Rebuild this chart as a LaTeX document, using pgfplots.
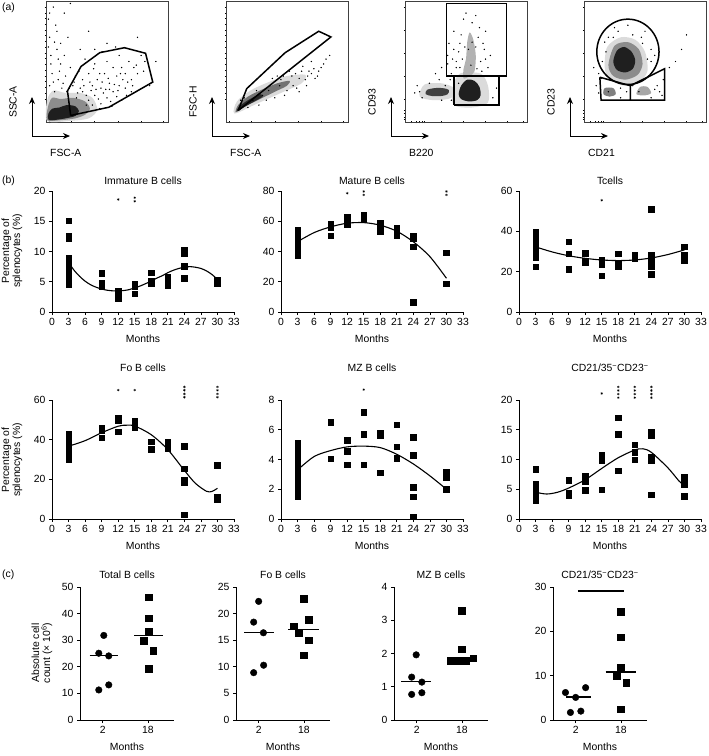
\documentclass[border=0pt]{standalone}
\usepackage{fontspec}
\setmainfont{Liberation Sans}
\usepackage{pgfplots}
\pgfplotsset{compat=1.18}
\usetikzlibrary{arrows.meta}
\newcommand\fs{\fontsize{10.4}{11}\selectfont}
\pgfplotsset{
 base/.style={scale only axis, axis x line*=bottom, axis y line*=left, tick align=outside,
   major tick length=3pt, every tick/.style={line width=0.8pt, black},
   axis line style={line width=0.9pt, black}, tick label style={font=\fs},
   xlabel style={font=\fs, yshift=-2pt}, clip=false, /pgf/number format/assume math mode=true,
   xlabel=Months, ymin=0},
 sq/.style={only marks, mark=square*, mark size=2.8pt, black},
 ci/.style={only marks, mark=*, mark size=3.3pt, black},
 csq/.style={only marks, mark=square*, mark size=3.3pt, black},
 st/.style={only marks, mark=asterisk, mark size=1.3pt, black, mark options={line width=0.35pt}},
 fit/.style={black, line width=1.1pt, smooth, no marks},
 med/.style={black, line width=1.3pt, no marks},
 pb/.style={base, width=182pt, xmin=0, xmax=33, xtick={0,3,...,33}},
 pc/.style={base, width=94pt, height=133pt, xmin=0, xmax=4.15, xtick={1,3}, xticklabels={2,18}},
 flow/.style={scale only axis, width=122pt, height=121pt, xmin=0, xmax=100, ymin=0, ymax=100,
   xticklabels={}, yticklabels={}, xtick pos=left, ytick pos=left, tick align=center,
   major tick length=2.5pt, minor tick length=1.5pt, every tick/.style={black, line width=0.6pt},
   axis line style={black!75, line width=0.5pt}, clip=true},
 dots/.style={only marks, mark=*, mark size=0.45pt, black},
 gate/.style={black, line width=1.5pt, no marks},
}
\begin{document}
\begin{tikzpicture}[x=1pt,y=1pt]
\path[use as bounding box] (0,0) rectangle (709,-756);
\fs
%% ================= (a) =================
\node[anchor=north west, font=\fs, inner sep=0pt] at (2,-3) {(a)};
% plot 1
\begin{axis}[flow, at={(46pt,-122pt)}, anchor=south west, xtick={3,21,40,59,78,96}, minor x tick num=3, ytick={19,38,57,76,95}, minor y tick num=3]
\addplot[fill=black!14, draw=none, smooth cycle] coordinates {(1,1)(20,1)(35,3)(42,10)(38,20)(28,24)(16,24)(6,26)(1,18)};
\addplot[fill=black!45, draw=none, smooth cycle] coordinates {(1,1.5)(12,1.5)(24,3)(32,6)(36,11)(32,17)(22,20)(12,19)(5,20)(1.5,12)};
\addplot[fill=black!88, draw=none, smooth cycle] coordinates {(2,2)(8,1.8)(16,3)(24,5)(27,9)(24,13)(17,14)(11,12)(5,11)(2,7)};
\addplot[dots] coordinates {(25,20)(30,25)(35,18)(40,22)(45,15)(50,20)(55,25)(60,30)(65,28)(70,35)(75,40)(38,30)(42,35)(48,40)(52,32)(58,38)(62,45)(68,50)(72,45)(80,42)(35,40)(30,35)(28,28)(45,28)(55,45)(50,50)(40,48)(60,55)(65,40)(70,25)(33,22)(37,26)(43,19)(47,24)(53,17)(58,21)(62,18)(66,22)(38,14)(44,11)(26,24)(22,30)(24,38)(20,45)(15,55)(12,65)(8,80)(18,70)(5,40)(10,35)(4,55)(15,90)(28,60)(35,75)(50,65)(78,55)(85,30)(90,50)(75,70)(20,98)(6,95)(12,48)(3,30)(7,25)(14,32)(32,52)(46,58)(57,62)(40,60)(3,70)(9,60)(2,85)(11,42)(6,33)(16,38)(19,28)(36,33)(41,27)(51,36)(56,31)(63,35)(71,30)(49,27)(54,13)(33,14)(4,48)(7,66)(2,62)(10,52)(13,28)(17,25)(23,33)(27,42)(31,30)(39,44)(44,40)(46,33)(52,27)(59,26)(61,40)(67,33)(74,47)(81,50)(3,90)(9,75)};
\addplot[gate] coordinates {(20.2,5.4)(17.6,25.7)(28.7,45.9)(44.1,57.3)(64.3,61.4)(81.6,56.8)(87.5,33)(51.5,12.2)(20.2,5.4)};
\end{axis}
% plot 2
\begin{axis}[flow, at={(226pt,-122pt)}, anchor=south west, xtick={3,21,40,59,78,96}, minor x tick num=3, ytick={19,38,57,76,95}, minor y tick num=3]
\addplot[fill=black!14, draw=none, smooth cycle] coordinates {(7,7)(25,15)(45,24)(62,32)(65,39)(50,38)(35,33)(20,26)(9,17)};
\addplot[fill=black!55, draw=none, smooth cycle] coordinates {(8,8)(16,13)(28,19)(40,25)(50,30)(52,34)(42,32)(30,27)(18,21)(10,14)};
\addplot[fill=black!85, draw=none, smooth cycle] coordinates {(9,9)(16,13)(25,18)(30,21)(28,23)(18,18)(11,13)};
\addplot[dots] coordinates {(55,30)(60,36)(65,35)(70,40)(72,44)(75,38)(68,42)(58,28)(48,22)(40,20)(62,42)(78,45)(80,48)(66,30)(54,38)(44,30)(35,26)(30,22)(22,18)(25,26)(15,20)(12,18)(18,12)(70,50)(63,46)(52,42)(85,55)(45,35)(38,36)(33,18)(27,14)(57,40)(73,36)(82,52)(47,38)(60,25)(42,38)(36,30)(50,26)(67,38)(76,42)};
\addplot[gate] coordinates {(10,9.5)(17,27.6)(48.5,57.3)(76,75)(86,70.3)(10,9.5)};
\end{axis}
% plot 3
\begin{axis}[flow, at={(405pt,-122pt)}, anchor=south west, xtick={5,9,12,14,16,30,48,66,84,97}, ytick={2,4,7,10,19,38,57,76,95}]
\addplot[fill=black!14, draw=none, smooth cycle] coordinates {(40,14)(55,12)(68,16)(68,30)(62,40)(45,40)(39,28)};
\addplot[fill=black!14, draw=none, smooth cycle] coordinates {(12,21)(24,18)(38,20)(40,28)(30,32)(16,31)};
\addplot[fill=black!30, draw=none, smooth cycle] coordinates {(48,36)(53,38)(57,42)(58,55)(56,68)(53,74)(51,66)(50,52)(48,44)};
\addplot[fill=black!75, draw=none, smooth cycle] coordinates {(17,23)(22,21.5)(30,21.5)(35,23)(36,26.5)(31,28)(24,28)(18,26.5)};
\addplot[fill=black!88, draw=none, smooth cycle] coordinates {(46,19)(52,17)(59,18)(62,22)(61,29)(57,34)(51,35)(46,30)(44,23)};
\addplot[dots] coordinates {(30,45)(35,55)(40,60)(45,65)(42,50)(38,40)(62,50)(65,60)(60,70)(55,82)(48,85)(68,45)(70,55)(72,38)(40,75)(44,32)(37,35)(33,30)(28,35)(25,40)(20,32)(12,25)(10,30)(66,75)(58,88)(52,60)(64,65)(46,72)(36,65)(75,28)(72,20)(38,18)(14,20)(30,18)(8,24)(44,58)(55,66)(61,78)(50,90)(42,45)(35,48)(66,52)(59,44)(47,52)(54,47)(49,62)(58,62)(45,45)(63,42)(39,52)};
\addplot[gate] coordinates {(34,38)(34,98)(83,98)(83,38)(34,38)};
\addplot[gate] coordinates {(40,14)(40,38)(77,38)(77,14)(40,14)};
\end{axis}
% plot 4
\begin{axis}[flow, at={(584pt,-122pt)}, anchor=south west, xtick={5,9,12,14,16,30,48,66,84,97}, ytick={2,4,7,10,19,38,57,76,95}]
\addplot[fill=black!14, draw=none, smooth cycle] coordinates {(17,45)(21,35)(33,30)(45,33)(52,42)(50,58)(42,68)(30,70)(19,62)};
\addplot[fill=black!45, draw=none, smooth cycle] coordinates {(20,47)(24,38)(34,35)(44,39)(48,48)(45,60)(36,66)(25,63)};
\addplot[fill=black!88, draw=none, smooth cycle] coordinates {(24,50)(27,43)(34,41)(40,44)(42,51)(39,58)(33,62)(27,59)};
\addplot[fill=black!50, draw=none, smooth cycle] coordinates {(16,23)(21,21)(26,23)(24,28)(17,28)};
\addplot[fill=black!35, draw=none, smooth cycle] coordinates {(43,23)(50,22)(55,24)(52,29)(46,29)};
\addplot[dots] coordinates {(15,50)(12,40)(20,70)(28,75)(40,72)(48,65)(55,50)(58,40)(60,30)(62,25)(35,25)(30,20)(10,30)(8,45)(50,75)(36,80)(25,78)(18,58)(55,60)(65,35)(70,45)(75,50)(80,60)(30,28)(40,30)(45,25)(20,25)(55,20)(64,22)(84,72)(14,36)(58,55)(17,66)(24,70)(47,70)(52,52)(12,24)(58,27)};
\draw[line width=1.5pt] (axis cs:36,58) ellipse [x radius=25.5, y radius=27];
\addplot[gate] coordinates {(13,37)(38,30)(38,18)(14,18)(13,37)};
\addplot[gate] coordinates {(38,30)(66,44)(66,18)(38,18)};
\end{axis}
% flow arrows and labels
\foreach \L/\ya/\xa in {46/SSC-A/FSC-A, 226/FSC-H/FSC-A, 405/CD93/B220, 584/CD23/CD21}{
  \draw[line width=1pt, {Stealth[length=7pt,width=6pt]}-{Stealth[length=7pt,width=6pt]}] (\L-14,-97) -- (\L-14,-136) -- (\L+24,-136);
  \node[rotate=90, font=\fs, inner sep=0pt] at (\L-33,-102) {\ya};
  \node[anchor=west, font=\fs, inner sep=0pt] at (\L+4,-153) {\xa};
}
%% ================= (b) =================
\node[anchor=west, font=\fs, inner sep=0pt] at (2,-181) {(b)};
\node[font=\fs] at (143,-181) {Immature B cells};
\node[font=\fs] at (372,-181) {Mature B cells};
\node[font=\fs] at (610,-181) {Tcells};
\node[font=\fs] at (143,-368) {Fo B cells};
\node[font=\fs] at (372,-368) {MZ B cells};
\node[font=\fs] at (610,-368) {CD21/35\textsuperscript{−}CD23\textsuperscript{−}};
\node[rotate=90, align=center, font=\fs] at (12,-251) {Percentage of\\splenocytes (\%)};
\node[rotate=90, align=center, font=\fs] at (12,-460) {Percentage of\\splenocytes (\%)};
% Immature
\begin{axis}[pb, at={(52pt,-312pt)}, anchor=south west, height=121pt, ymax=20, ytick={0,5,...,20}]
\addplot[sq] coordinates {(3,15.1)(3,12.6)(3,12.1)(3,9.0)(3,8.5)(3,8.0)(3,7.5)(3,7.0)(3,6.5)(3,6.0)(3,5.5)(3,5.0)(3,4.6)
 (9,6.4)(9,4.8)(9,4.3) (12,3.4)(12,2.9)(12,2.2) (15,4.6)(15,4.2)(15,3.0) (18,6.5)(18,5.1)(18,4.7)
 (21,5.8)(21,5.0)(21,4.4) (24,10.3)(24,9.7)(24,7.6)(24,5.6) (30,5.3)(30,4.9)(30,4.7)};
\addplot[fit] coordinates {(3,8.2)(4,6.9)(5,5.9)(6,5.1)(7,4.5)(8,4.1)(9,3.8)(10,3.6)(11,3.5)(12,3.5)(13,3.55)(14,3.7)(15,4.0)(16,4.3)(17,4.7)(18,5.1)(19,5.6)(20,6.0)(21,6.5)(22,6.9)(23,7.2)(24,7.4)(25,7.5)(26,7.4)(27,7.2)(28,6.8)(29,6.2)(30,5.4)};
\addplot[st] coordinates {(12,18.6)(15,18.9)(15,18.3)};
\end{axis}
% Mature
\begin{axis}[pb, at={(281pt,-312pt)}, anchor=south west, height=121pt, ymax=80, ytick={0,20,...,80}]
\addplot[sq] coordinates {(3,54)(3,52.5)(3,51)(3,49.5)(3,48)(3,46.5)(3,45)(3,43.5)(3,42)(3,40.5)(3,39)(3,37.5)
 (9,58.5)(9,56)(9,50.5) (12,62.8)(12,61.8)(12,57.8) (15,64.4)(15,62.8)(15,61) (18,59)(18,55.8)(18,53.4)
 (21,55.8)(21,54.1)(21,51.9)(21,50.8) (24,50.4)(24,48.6)(24,43.1)(24,6.6) (30,39.2)(30,18.6)};
\addplot[fit] coordinates {(3,46.5)(6,52.5)(9,56.3)(12,58.7)(15,59.1)(18,57.4)(21,53.4)(24,46.4)(27,36.6)(30,22.3)};
\addplot[st] coordinates {(12,78.5)(15,79.7)(15,77.4)(30,79.7)(30,77.4)};
\end{axis}
% Tcells
\begin{axis}[pb, at={(519pt,-312pt)}, anchor=south west, height=121pt, ymax=60, ytick={0,20,...,60}]
\addplot[sq] coordinates {(3,39.5)(3,38.3)(3,37)(3,35.8)(3,34.5)(3,33.3)(3,32)(3,30.8)(3,29.5)(3,28.2)(3,27)(3,22.4)
 (9,34.8)(9,29)(9,21.3) (12,29.3)(12,25.2)(12,24.7) (15,25.7)(15,23.8)(15,18) (18,29)(18,23.6)(18,22.5)
 (21,28.5)(21,27.4)(21,26.6) (24,51.1)(24,28.2)(24,26.9)(24,25.7)(24,22.4)(24,18.7) (30,32.3)(30,28.2)(30,25.4)};
\addplot[fit] coordinates {(3,32.3)(6,29.8)(9,27.9)(12,26.6)(15,25.8)(18,25.5)(21,25.8)(24,26.8)(27,28.5)(30,30.8)};
\addplot[st] coordinates {(15,55.4)};
\end{axis}
% Fo
\begin{axis}[pb, at={(52pt,-519pt)}, anchor=south west, height=119pt, ymax=60, ytick={0,20,...,60}]
\addplot[sq] coordinates {(3,43)(3,41.7)(3,40.4)(3,39.1)(3,37.8)(3,36.5)(3,35.2)(3,33.9)(3,32.6)(3,31.3)(3,30.3)
 (9,45.8)(9,44.5)(9,41) (12,51)(12,49.6)(12,44) (15,49.4)(15,46) (18,38.9)(18,35.1)
 (21,38.9)(21,35.6) (24,36.7)(24,25.3)(24,19.6)(24,18.7)(24,2.2) (30,27.1)(30,11.1)(30,10.1)};
\addplot[fit] coordinates {(3,36.7)(6,39.5)(9,43.5)(12,46.8)(13.5,47.3)(15,46.9)(18,42.5)(21,35)(24,24.5)(26,18)(28,14)(29,13.9)(30,15.5)};
\addplot[st] coordinates {(12,65)(15,65)(24,66.6)(24,64.9)(24,63.1)(24,61.4)(30,66.6)(30,64.9)(30,63.1)(30,61.4)};
\end{axis}
% MZ
\begin{axis}[pb, at={(281pt,-519pt)}, anchor=south west, height=119pt, ymax=8, ytick={0,2,...,8}]
\addplot[sq] coordinates {(3,5.1)(3,4.85)(3,4.6)(3,4.35)(3,4.1)(3,3.85)(3,3.6)(3,3.35)(3,3.1)(3,2.85)(3,2.6)(3,2.35)(3,2.1)(3,1.85)(3,1.6)(3,1.5)
 (9,6.5)(9,4.05) (12,5.3)(12,4.55)(12,3.65) (15,7.2)(15,5.7)(15,3.65) (18,5.8)(18,5.65)(18,3.1)
 (21,6.35)(21,4.85)(21,4.1) (24,5.5)(24,4.3)(24,2.15)(24,1.5)(24,0.15) (30,3.15)(30,2.8)(30,2.0)};
\addplot[fit] coordinates {(3,3.3)(6,4.2)(9,4.6)(12,4.85)(15,4.9)(18,4.8)(21,4.35)(24,3.7)(27,2.9)(30,2.0)};
\addplot[st] coordinates {(15,8.7)};
\end{axis}
% CD21/35-CD23-
\begin{axis}[pb, at={(519pt,-519pt)}, anchor=south west, height=119pt, ymax=20, ytick={0,5,...,20}]
\addplot[sq] coordinates {(3,8.4)(3,5.9)(3,5.5)(3,5.1)(3,4.7)(3,4.3)(3,3.9)(3,3.5)(3,3.1)
 (9,6.5)(9,4.3)(9,3.9) (12,7.3)(12,6.3)(12,4.8) (15,10.8)(15,10.3)(15,9.9)(15,4.9) (18,17)(18,14.3)(18,8.1)
 (21,12.5)(21,11.2)(21,10.0) (24,14.6)(24,14.0)(24,10.4)(24,9.8)(24,4.1) (30,7.0)(30,5.9)(30,3.8)};
\addplot[fit] coordinates {(3,4.5)(5,4.2)(7,4.5)(9,5.2)(12,6.6)(15,8.5)(18,10.3)(21,11.6)(22.5,11.8)(24,11.2)(27,8.6)(29,6.4)(30,5.6)};
\addplot[st] coordinates {(15,21.1)(18,22.2)(18,21.6)(18,21.0)(18,20.4)(21,22.2)(21,21.6)(21,21.0)(21,20.4)(24,22.2)(24,21.6)(24,21.0)(24,20.4)};
\end{axis}
%% ================= (c) =================
\node[anchor=west, font=\fs, inner sep=0pt] at (2,-575) {(c)};
\node[font=\fs] at (127,-575) {Total B cells};
\node[font=\fs] at (283,-575) {Fo B cells};
\node[font=\fs] at (441,-575) {MZ B cells};
\node[font=\fs] at (600,-575) {CD21/35\textsuperscript{−}CD23\textsuperscript{−}};
\node[rotate=90, align=center, font=\fs] at (42,-653) {Absolute cell\\count (× 10\textsuperscript{6})};
\begin{axis}[pc, at={(80pt,-720pt)}, anchor=south west, ymax=50, ytick={0,10,...,50}]
\addplot[ci] coordinates {(1.05,31.8)(0.83,25.1)(1.27,24.1)(0.83,11.3)(1.27,13.2)};
\addplot[csq] coordinates {(3.04,46.1)(3.04,38.3)(3.04,33.3)(2.82,29.8)(3.24,26.0)(3.04,19.2)};
\addplot[med] coordinates {(0.42,24.2)(1.68,24.2)};
\addplot[med] coordinates {(2.4,31.7)(3.65,31.7)};
\end{axis}
\begin{axis}[pc, at={(236pt,-720pt)}, anchor=south west, ymax=25, ytick={0,5,...,25}]
\addplot[ci] coordinates {(1.0,22.3)(0.78,18.4)(1.21,16.4)(1.22,10.3)(0.78,8.9)};
\addplot[csq] coordinates {(3.0,22.8)(3.21,18.9)(2.54,17.6)(2.78,16.4)(3.21,15.0)(3.0,12.2)};
\addplot[med] coordinates {(0.36,16.4)(1.68,16.4)};
\addplot[med] coordinates {(2.3,17.0)(3.65,17.0)};
\end{axis}
\begin{axis}[pc, at={(394pt,-720pt)}, anchor=south west, ymax=4, ytick={0,1,...,4}]
\addplot[ci] coordinates {(0.98,1.96)(0.78,1.29)(1.23,1.14)(0.78,0.77)(1.23,0.82)};
\addplot[csq] coordinates {(3.0,3.28)(3.0,2.13)(2.5,1.79)(2.85,1.79)(3.18,1.79)(3.5,1.86)};
\addplot[med] coordinates {(0.33,1.16)(1.65,1.16)};
\addplot[med] coordinates {(2.35,1.82)(3.65,1.82)};
\end{axis}
\begin{axis}[pc, at={(553pt,-720pt)}, anchor=south west, ymax=30, ytick={0,10,...,30}]
\addplot[ci] coordinates {(0.55,6.2)(1.0,5.1)(1.44,7.3)(0.77,1.7)(1.23,2.0)};
\addplot[csq] coordinates {(3,24.4)(3,18.7)(3,11.9)(2.8,9.85)(3.23,8.36)(3,2.4)};
\addplot[med] coordinates {(0.58,5.2)(1.67,5.2)};
\addplot[med] coordinates {(2.32,10.8)(3.68,10.8)};
\addplot[black, line width=2.4pt, no marks] coordinates {(1.1,29.1)(3.12,29.1)};
\end{axis}
\end{tikzpicture}
\end{document}
